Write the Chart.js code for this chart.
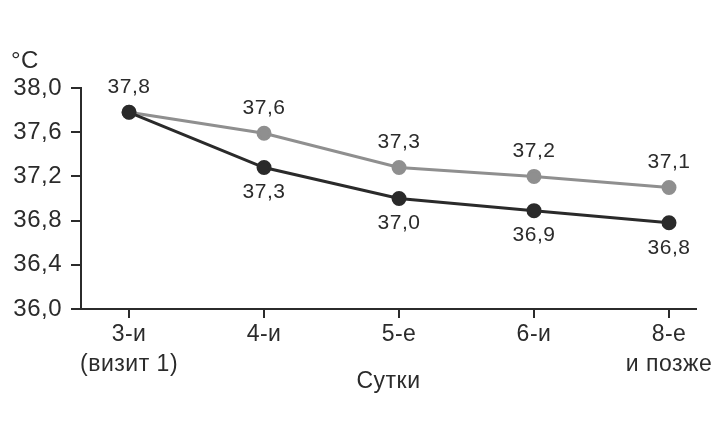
<!DOCTYPE html>
<html>
<head>
<meta charset="utf-8">
<script src="https://cdn.jsdelivr.net/npm/chart.js@4/dist/chart.umd.min.js"></script>
<style>
  body { margin: 0; background: #fff; }
  #wrap { width: 727px; height: 432px; }
</style>
</head>
<body>
<div id="wrap"><canvas id="myChart"></canvas></div>
<script>
//  Chart data
const days = [['3-и', '(визит 1)'], ['4-и'], ['5-е'], ['6-и'], ['8-е', 'и позже']];
const temp_gray = [37.78, 37.59, 37.28, 37.20, 37.10];
const temp_black = [37.78, 37.28, 37.00, 36.89, 36.78];
const y_ticks = [36.0, 36.4, 36.8, 37.2, 37.6, 38.0];

const FONT = "'Liberation Sans', Arial, sans-serif";
const TXT = '#2b2b2b';
const SPACING = '0.5px';

function fmt(v) {
    return v.toFixed(1).replace('.', ',');
}

//  Slightly wider letter spacing, the reference type runs wide
const spacing = {
    id: 'spacing',
    beforeLayout(chart) { chart.ctx.letterSpacing = SPACING; },
    beforeDraw(chart) { chart.ctx.letterSpacing = SPACING; }
};

//  Value labels next to the points, plus the unit label
const value_labels = {
    id: 'value_labels',
    afterDatasetsDraw(chart) {
        const ctx = chart.ctx;
        ctx.save();
        ctx.letterSpacing = SPACING;
        ctx.font = '21px ' + FONT;
        ctx.fillStyle = TXT;
        ctx.textAlign = 'center';
        ctx.textBaseline = 'middle';
        chart.data.datasets.forEach((ds, di) => {
            const meta = chart.getDatasetMeta(di);
            meta.data.forEach((pt, i) => {
                if (ds.label_pos == 'below' && i == 0) return;
                const dy = ds.label_pos == 'below' ? 25 : -25;
                ctx.fillText(fmt(ds.data[i].y), pt.x, pt.y + dy);
            });
        });
        ctx.font = '24px ' + FONT;
        ctx.textAlign = 'left';
        ctx.fillText('°C', 11, 61);
        ctx.restore();
    }
};

const ctx = document.getElementById('myChart');
new Chart(ctx, {
    type: 'line',
    data: {
        datasets: [{
            data: temp_black,
            label_pos: 'below',
            borderColor: '#2a2a2a',
            backgroundColor: '#2a2a2a',
            borderWidth: 3,
            pointRadius: 6,
            pointHoverRadius: 6,
            tension: 0
        }, {
            data: temp_gray,
            label_pos: 'above',
            borderColor: '#8f8f8f',
            backgroundColor: '#8f8f8f',
            borderWidth: 3,
            pointRadius: 6,
            pointHoverRadius: 6,
            tension: 0
        }].map(ds => Object.assign(ds, { data: ds.data.map((v, i) => ({ x: i, y: v })) }))
    },
    options: {
        responsive: true,
        maintainAspectRatio: false,
        animation: false,
        layout: { padding: { top: 88, right: 31, left: 0, bottom: 0 } },
        plugins: { legend: { display: false }, tooltip: { enabled: false } },
        scales: {
            x: {
                type: 'linear',
                min: -0.356,
                max: 4.2,
                afterBuildTicks: scale => { scale.ticks = days.map((_, i) => ({ value: i })); },
                afterFit: scale => { scale.height = 123; },
                ticks: {
                    autoSkip: false,
                    maxRotation: 0,
                    padding: 2,
                    color: TXT,
                    font: { family: FONT, size: 23, lineHeight: 1.28 },
                    callback: v => days[v]
                },
                grid: { drawOnChartArea: false, drawTicks: true, tickLength: 9, color: TXT, lineWidth: 2 },
                border: { display: true, color: TXT, width: 2 }
                ,
                title: {
                    display: true,
                    text: 'Сутки',
                    color: TXT,
                    font: { family: FONT, size: 23 },
                    padding: { top: 0, bottom: 37 }
                }
            },
            y: {
                min: 36,
                max: 38,
                afterBuildTicks: scale => { scale.ticks = y_ticks.map(v => ({ value: v })); },
                afterFit: scale => { scale.width = 81; },
                ticks: {
                    padding: 9,
                    color: TXT,
                    font: { family: FONT, size: 24 },
                    callback: v => fmt(v)
                },
                grid: { drawOnChartArea: false, drawTicks: true, tickLength: 10, color: TXT, lineWidth: 2 },
                border: { display: true, color: TXT, width: 2 }
            }
        }
    },
    plugins: [spacing, value_labels]
});
</script>
</body>
</html>
